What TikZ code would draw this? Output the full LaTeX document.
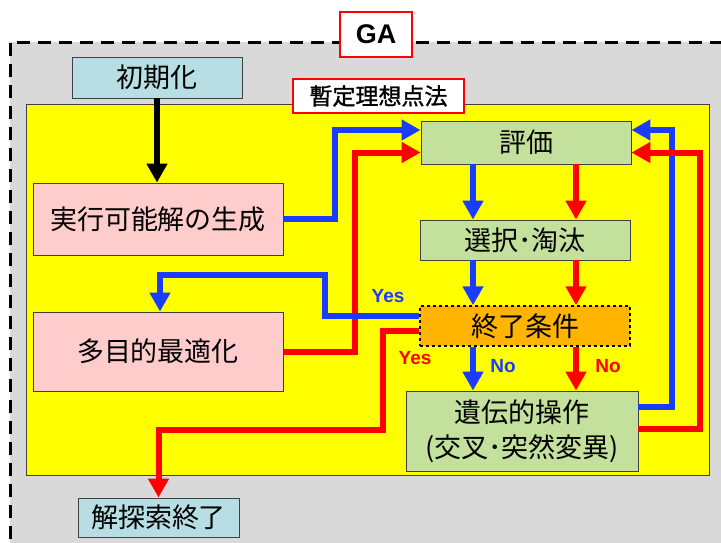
\documentclass[tikz,border=0pt]{standalone}
\usepackage{fontspec}
\setmainfont{Liberation Sans}
\newfontfamily\jp{Noto Sans CJK JP}
\newfontfamily\jpb[FakeBold=1.2]{Noto Sans CJK JP}
\usetikzlibrary{arrows.meta}
\definecolor{bgray}{HTML}{D9D9D9}
\definecolor{ayel}{HTML}{FFFF00}
\definecolor{pinkb}{HTML}{FFCCCC}
\definecolor{lblue}{HTML}{B7DEE3}
\definecolor{lgreen}{HTML}{C3E09C}
\definecolor{orng}{HTML}{FFB400}
\definecolor{bblue}{HTML}{1A3CFF}
\definecolor{rred}{HTML}{FF0000}
\definecolor{edge}{HTML}{404040}
\tikzset{
  box/.style={draw=edge, line width=0.9pt, inner sep=0pt, align=center, font=\jp\fontsize{27}{35}\selectfont},
  pinkbox/.style={box, fill=pinkb, minimum width=250pt},
  greenbox/.style={box, fill=lgreen},
  bluebox/.style={box, fill=lblue},
  labelbox/.style={draw=rred, line width=1.5pt, fill=white, inner sep=0pt},
  arr/.style={line width=6pt, line join=miter, -{Triangle[width=20pt,length=19pt]}},
  barr/.style={arr, draw=bblue},
  rarr/.style={arr, draw=rred},
  karr/.style={arr, draw=black},
  yn/.style={font=\bfseries\fontsize{19}{22}\selectfont, inner sep=0pt}
}
\begin{document}
\begin{tikzpicture}[x=1pt,y=-1pt]
\useasboundingbox (0,0) rectangle (721,542);
\clip (0,0) rectangle (721,542);
% outer GA region
\fill[bgray] (10,42) rectangle (740,560);
\draw[line width=3pt, dash pattern=on 13pt off 8pt] (10,560) -- (10,42) -- (740,42);
% yellow region
\draw[edge, line width=0.9pt, fill=ayel] (26,104) rectangle (709,475);
% nodes
\node[labelbox, minimum width=72pt, minimum height=45pt, font=\bfseries\fontsize{27}{30}\selectfont] (ga) at (376,34.5) {GA};
\node[labelbox, minimum width=171pt, minimum height=34pt, font=\jpb\fontsize{23}{26}\selectfont] (ideal) at (378.5,96) {暫定理想点法};
\node[bluebox, minimum width=170pt, minimum height=41pt] (init) at (157,77.5) {初期化};
\node[pinkbox, minimum height=72pt] (gen) at (158,219) {実行可能解の生成};
\node[pinkbox, minimum height=79pt] (opt) at (158,351.5) {多目的最適化};
\node[greenbox, minimum width=210pt, minimum height=43pt] (eval) at (526,142.5) {評価};
\node[greenbox, minimum width=210pt, minimum height=40pt] (sel) at (525,240) {選択･淘汰};
\node[box, fill=orng, dashed, draw=black, line width=1.5pt, minimum width=210pt, minimum height=40pt] (cond) at (525,326) {終了条件};
\node[greenbox, minimum width=232pt, minimum height=80pt] (gop) at (522,431) {遺伝的操作\\(交叉･突然変異)};
\node[bluebox, minimum width=161pt, minimum height=39pt] (fin) at (158.5,517.5) {解探索終了};
% connectors
\draw[karr] (init.south) -- (init.south |- gen.north);
\draw[barr] (gen.east) -| (335,130) -- ([yshift=12.5pt]eval.west);
\draw[rarr] (opt.east) -| (355,152.5) -- ([yshift=-10pt]eval.west);
\draw[barr] (473,0 |- eval.south) -- (473,0 |- sel.north);
\draw[rarr] (576,0 |- eval.south) -- (576,0 |- sel.north);
\draw[barr] (473,0 |- sel.south) -- (473,0 |- cond.north);
\draw[rarr] (576,0 |- sel.south) -- (576,0 |- cond.north);
\draw[barr] (473,0 |- cond.south) -- (473,0 |- gop.north);
\draw[rarr] (576,0 |- cond.south) -- (576,0 |- gop.north);
\draw[barr] ([yshift=10pt]cond.west) -| (325,275) -| ([xshift=2pt]opt.north);
\draw[rarr] ([yshift=-5pt]cond.west) -| (383,430) -| (fin.north);
\draw[barr] ([yshift=24pt]gop.east) -| (672,130) -- ([yshift=12.5pt]eval.east);
\draw[rarr] ([yshift=2pt]gop.east) -| (700,152.5) -- ([yshift=-10pt]eval.east);
% labels
\node[yn, text=bblue] (yb) at (388,296) {Yes};
\node[yn, text=rred] (yr) at (415,358) {Yes};
\node[yn, text=bblue] (nb) at (503,366) {No};
\node[yn, text=rred] (nr) at (608,366) {No};
\end{tikzpicture}
\end{document}
